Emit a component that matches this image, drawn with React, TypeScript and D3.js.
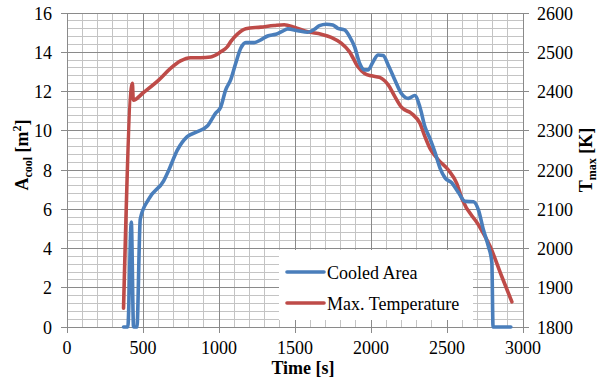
import React from "react";
import * as d3 from "d3";

// Cooled area over time (left axis, m²)
const areaTime = [372, 400, 423, 438, 460, 482, 536, 636, 670, 725, 791, 857, 923, 978, 1011, 1044, 1077, 1110, 1143, 1176, 1231, 1275, 1320, 1374, 1419, 1452, 1518, 1584, 1628, 1661, 1705, 1749, 1782, 1826, 1859, 1892, 1925, 1958, 1980, 2014, 2047, 2080, 2113, 2157, 2200, 2245, 2288, 2322, 2355, 2388, 2421, 2454, 2487, 2531, 2575, 2619, 2674, 2707, 2740, 2773, 2795, 2803, 2920];
const areaValue = [0, 0, 5.35, 0, 0, 5.5, 6.5, 7.45, 8.0, 9.0, 9.7, 9.95, 10.24, 10.9, 11.2, 12.08, 12.6, 13.44, 14.2, 14.49, 14.49, 14.63, 14.83, 14.92, 15.08, 15.19, 15.1, 15.02, 15.17, 15.36, 15.43, 15.39, 15.22, 15.14, 14.8, 14.28, 13.44, 13.1, 13.1, 13.52, 13.86, 13.83, 13.35, 12.59, 11.9, 11.65, 11.8, 11.2, 10.2, 9.6, 8.9, 8.1, 7.6, 7.35, 6.85, 6.4, 6.38, 5.96, 4.94, 4.09, 3.3, 0, 0];

// Maximum temperature over time (right axis, K)
const tempTime = [372, 430, 436, 505, 603, 681, 747, 813, 879, 945, 1011, 1055, 1077, 1121, 1176, 1275, 1363, 1429, 1495, 1584, 1672, 1738, 1804, 1859, 1914, 1958, 2002, 2057, 2113, 2157, 2200, 2267, 2322, 2355, 2388, 2443, 2509, 2564, 2600, 2707, 2784, 2861, 2927];
const tempValue = [1848, 2421, 2378, 2398, 2429, 2459, 2478, 2486, 2486, 2488, 2501, 2514, 2527, 2546, 2560, 2564, 2568, 2570, 2564, 2552, 2546, 2538, 2523, 2501, 2463, 2446, 2440, 2436, 2417, 2387, 2360, 2344, 2319, 2285, 2255, 2226, 2200, 2166, 2125, 2060, 2005, 1928, 1864];

const xTicks = [0, 500, 1000, 1500, 2000, 2500, 3000];
const areaTicks = [0, 2, 4, 6, 8, 10, 12, 14, 16];
const tempTicks = [1800, 1900, 2000, 2100, 2200, 2300, 2400, 2500, 2600];

const seriesNames = ["Cooled Area", "Max. Temperature"];

const W = 610;
const H = 383;
const plot = { left: 67, right: 523, top: 13, bottom: 327 };
const BLUE = "#4a7ebb";
const RED = "#be4b48";
const FONT = '"Times New Roman", Times, "Liberation Serif", "DejaVu Serif", serif';
const FS = 18;

export default function App() {
  const x = d3.scaleLinear().domain([0, 3000]).range([plot.left, plot.right]);
  const yA = d3.scaleLinear().domain([0, 16]).range([plot.bottom, plot.top]);
  const yT = d3.scaleLinear().domain([1800, 2600]).range([plot.bottom, plot.top]);

  const minorX = d3.range(0, 3001, 100);
  const minorY = d3.range(0, 16.001, 0.4);

  const areaLine = d3
    .line<number>()
    .x((_, i) => x(areaTime[i]))
    .y((d) => yA(d))
    .curve(d3.curveMonotoneX);
  const tempLine = d3
    .line<number>()
    .x((_, i) => x(tempTime[i]))
    .y((d) => yT(d))
    .curve(d3.curveMonotoneX);

  const legend = { x: 279, y: 250, w: 194, h: 70 };
  const txt = (size: number, bold = false) => ({
    fontFamily: FONT,
    fontSize: size,
    fontWeight: bold ? ("bold" as const) : ("normal" as const),
  });

  return (
    <svg width={W} height={H} style={{ position: "absolute", left: 0, top: 0, background: "#fff" }}>
      <rect width={W} height={H} fill="#fff" />
      {/* minor grid */}
      <g stroke="#c4c4c4" strokeWidth={1} shapeRendering="crispEdges">
        {minorX.map((t) => (
          <line key={"mx" + t} x1={x(t)} x2={x(t)} y1={plot.top} y2={plot.bottom} />
        ))}
        {minorY.map((v, i) => (
          <line key={"my" + i} x1={plot.left} x2={plot.right} y1={yA(v)} y2={yA(v)} />
        ))}
      </g>
      {/* major grid */}
      <g stroke="#8a8a8a" strokeWidth={1} shapeRendering="crispEdges">
        {xTicks.map((t) => (
          <line key={"Mx" + t} x1={x(t)} x2={x(t)} y1={plot.top} y2={plot.bottom} />
        ))}
        {areaTicks.map((v) => (
          <line key={"My" + v} x1={plot.left} x2={plot.right} y1={yA(v)} y2={yA(v)} />
        ))}
      </g>
      {/* tick marks */}
      <g stroke="#8a8a8a" strokeWidth={1} shapeRendering="crispEdges">
        {areaTicks.map((v) => (
          <line key={"lt" + v} x1={plot.left - 6} x2={plot.left} y1={yA(v)} y2={yA(v)} />
        ))}
        {tempTicks.map((v) => (
          <line key={"rt" + v} x1={plot.right} x2={plot.right + 6} y1={yT(v)} y2={yT(v)} />
        ))}
        {xTicks.map((t) => (
          <line key={"bt" + t} x1={x(t)} x2={x(t)} y1={plot.bottom} y2={plot.bottom + 6} />
        ))}
      </g>

      {/* series */}
      <path d={tempLine(tempValue) || ""} fill="none" stroke={RED} strokeWidth={3.6} strokeLinejoin="round" strokeLinecap="round" />
      <path d={areaLine(areaValue) || ""} fill="none" stroke={BLUE} strokeWidth={3.6} strokeLinejoin="round" strokeLinecap="round" />

      {/* tick labels */}
      {areaTicks.map((v) => (
        <text key={"ll" + v} x={52} y={yA(v) + 6.5} textAnchor="end" style={txt(FS)}>
          {v}
        </text>
      ))}
      {tempTicks.map((v) => (
        <text key={"rl" + v} x={537} y={yT(v) + 6.5} textAnchor="start" style={txt(FS)}>
          {v}
        </text>
      ))}
      {xTicks.map((t) => (
        <text key={"bl" + t} x={x(t)} y={354} textAnchor="middle" style={txt(FS)}>
          {t}
        </text>
      ))}

      {/* axis titles */}
      <text x={303} y={373.5} textAnchor="middle" style={txt(FS, true)}>
        Time [s]
      </text>
      <text transform="translate(28,155) rotate(-90)" textAnchor="middle" style={txt(FS, true)}>
        A<tspan style={{ fontSize: 12 }} dy={4}>cool</tspan>
        <tspan dy={-4}> [m</tspan>
        <tspan style={{ fontSize: 12 }} dy={-7}>2</tspan>
        <tspan dy={7}>]</tspan>
      </text>
      <text transform="translate(592,160) rotate(-90)" textAnchor="middle" style={txt(FS, true)}>
        T<tspan style={{ fontSize: 12 }} dy={4}>max</tspan>
        <tspan dy={-4}> [K]</tspan>
      </text>

      {/* legend */}
      <rect x={legend.x} y={legend.y} width={legend.w} height={legend.h} fill="#fff" />
      {seriesNames.map((name, i) => {
        const cy = 272 + i * 31;
        return (
          <g key={name}>
            <line x1={287} x2={324} y1={cy} y2={cy} stroke={i === 0 ? BLUE : RED} strokeWidth={3.6} strokeLinecap="round" />
            <text x={327} y={cy + 6.5} style={txt(FS)}>
              {name}
            </text>
          </g>
        );
      })}
    </svg>
  );
}
